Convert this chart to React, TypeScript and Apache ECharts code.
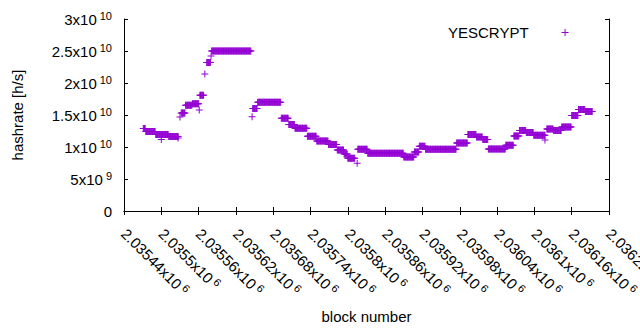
import React, { useEffect, useRef } from "react";
import * as echarts from "echarts";

// Runs of blocks sharing the same hashrate
const segStart = [
  2035471, 2035475, 2035491, 2035500, 2035512, 2035527, 2035530, 2035532, 2035539, 2035550,
  2035561, 2035562, 2035570, 2035573, 2035580, 2035581, 2035646, 2035647, 2035655, 2035693,
  2035705, 2035715, 2035735, 2035750, 2035769, 2035783, 2035794, 2035800, 2035815, 2035816,
  2035832, 2035890, 2035907, 2035915, 2035925, 2035975, 2035993, 2036007, 2036017, 2036026,
  2036054, 2036067, 2036076, 2036087, 2036099, 2036117, 2036120, 2036131, 2036144, 2036160,
  2036171, 2036182,
];
const segEnd = [
  2035474, 2035490, 2035511, 2035500, 2035527, 2035527, 2035530, 2035538, 2035549, 2035560,
  2035561, 2035568, 2035570, 2035579, 2035580, 2035644, 2035646, 2035654, 2035692, 2035704,
  2035714, 2035734, 2035749, 2035768, 2035782, 2035793, 2035799, 2035811, 2035815, 2035831,
  2035889, 2035906, 2035914, 2035924, 2035974, 2035992, 2036006, 2036016, 2036025, 2036053,
  2036066, 2036075, 2036086, 2036098, 2036117, 2036117, 2036130, 2036143, 2036159, 2036170,
  2036181, 2036193,
];
const segValue = [
  1.289e10, 1.242e10, 1.195e10, 1.117e10, 1.164e10, 1.14e10, 1.469e10, 1.531e10, 1.652e10, 1.675e10,
  1.578e10, 1.81e10, 2.14e10, 2.32e10, 2.42e10, 2.5e10, 1.473e10, 1.6e10, 1.7e10, 1.448e10,
  1.352e10, 1.292e10, 1.167e10, 1.094e10, 1.039e10, 9.53e9, 8.91e9, 8.23e9, 7.45e9, 9.64e9,
  9.02e9, 8.44e9, 9.22e9, 1.011e10, 9.64e9, 1.0625e10, 1.195e10, 1.156e10, 1.117e10, 9.69e9,
  1.027e10, 1.172e10, 1.258e10, 1.227e10, 1.183e10, 1.109e10, 1.281e10, 1.258e10, 1.3125e10, 1.492e10,
  1.586e10, 1.555e10,
];

const xTickBlocks = [
  2035440, 2035500, 2035560, 2035620, 2035680, 2035740, 2035800, 2035860, 2035920, 2035980,
  2036040, 2036100, 2036160, 2036220,
];
const xTickMantissa = [
  "2.03544", "2.0355", "2.03556", "2.03562", "2.03568", "2.03574", "2.0358", "2.03586", "2.03592",
  "2.03598", "2.03604", "2.0361", "2.03616", "2.03622",
];
const xTickExp = "6";

const yTickValues = [0, 5e9, 1e10, 1.5e10, 2e10, 2.5e10, 3e10];
const yTickMantissa = ["0", "5", "1", "1.5", "2", "2.5", "3"];
const yTickExp = ["", "9", "10", "10", "10", "10", "10"];

const seriesName = "YESCRYPT";
const FONT = "'Liberation Sans', Arial, sans-serif";
const COLOR = "#9400d3";
const PLUS = "path://M3,0L4,0L4,3L7,3L7,4L4,4L4,7L3,7L3,4L0,4L0,3L3,3Z";

const rich = {
  b: { fontSize: 15, fontFamily: FONT, color: "#000", lineHeight: 18 },
  s: { fontSize: 11, fontFamily: FONT, color: "#000", lineHeight: 11, verticalAlign: "top", padding: [0, 0, 0, 3] },
};

export default function App() {
  const ref = useRef<HTMLDivElement>(null);
  useEffect(() => {
    if (!ref.current) return;
    const chart = echarts.init(ref.current, undefined, { renderer: "svg" });
    const data: number[][] = [];
    for (let i = 0; i < segStart.length; i++) {
      for (let b = segStart[i]; b <= segEnd[i]; b++) data.push([b, segValue[i]]);
    }
    const axisLine = { show: true, lineStyle: { color: "#000", width: 1 } };
    const axisTick = { show: true, inside: true, length: 4, lineStyle: { color: "#000", width: 1 } };
    const xMin = xTickBlocks[0];
    const xMax = xTickBlocks[xTickBlocks.length - 1];
    chart.setOption({
      animation: false,
      backgroundColor: "#fff",
      textStyle: { fontFamily: FONT },
      grid: { left: 124, top: 19, right: 31, bottom: 119, containLabel: false, outerBoundsMode: "none" },
      legend: {
        show: true,
        left: 448,
        top: 25,
        padding: 0,
        align: "right",
        itemWidth: 7,
        itemHeight: 7,
        icon: PLUS,
        itemStyle: { color: COLOR },
        textStyle: { fontSize: 15, fontFamily: FONT, color: "#000", padding: [0, 28, 0, 0] },
        data: [seriesName],
      },
      xAxis: [
        {
          type: "value",
          position: "bottom",
          min: xMin,
          max: xMax,
          interval: 60,
          axisLine,
          axisTick,
          splitLine: { show: false },
          axisLabel: {
            rotate: -45,
            margin: 20,
            formatter: (v: number) => {
              const i = xTickBlocks.indexOf(v);
              return i < 0 ? "" : `{b|${xTickMantissa[i]}x10}{s|${xTickExp}}`;
            },
            rich,
          },
          name: "block number",
          nameLocation: "middle",
          nameGap: 98,
          nameTextStyle: { fontSize: 15, fontFamily: FONT, color: "#000" },
        },
        {
          type: "value",
          position: "top",
          min: xMin,
          max: xMax,
          interval: 60,
          axisLine,
          axisTick,
          axisLabel: { show: false },
          splitLine: { show: false },
        },
      ],
      yAxis: [
        {
          type: "value",
          position: "left",
          min: 0,
          max: 3e10,
          interval: 5e9,
          axisLine,
          axisTick,
          splitLine: { show: false },
          axisLabel: {
            margin: 12,
            formatter: (v: number) => {
              const i = yTickValues.indexOf(v);
              if (i < 0) return "";
              return yTickExp[i] ? `{b|${yTickMantissa[i]}x10}{s|${yTickExp[i]}}` : `{b|${yTickMantissa[i]}}`;
            },
            rich,
          },
          name: "hashrate [h/s]",
          nameLocation: "middle",
          nameGap: 99,
          nameTextStyle: { fontSize: 15, fontFamily: FONT, color: "#000" },
        },
        {
          type: "value",
          position: "right",
          min: 0,
          max: 3e10,
          interval: 5e9,
          axisLine,
          axisTick,
          axisLabel: { show: false },
          splitLine: { show: false },
        },
      ],
      series: [
        {
          name: seriesName,
          type: "scatter",
          xAxisIndex: 0,
          yAxisIndex: 0,
          symbol: PLUS,
          symbolSize: 7,
          itemStyle: { color: COLOR, opacity: 1 },
          data,
        },
      ],
    });
    return () => chart.dispose();
  }, []);
  return <div ref={ref} style={{ position: "fixed", left: 0, top: 0, width: 640, height: 330 }} />;
}
